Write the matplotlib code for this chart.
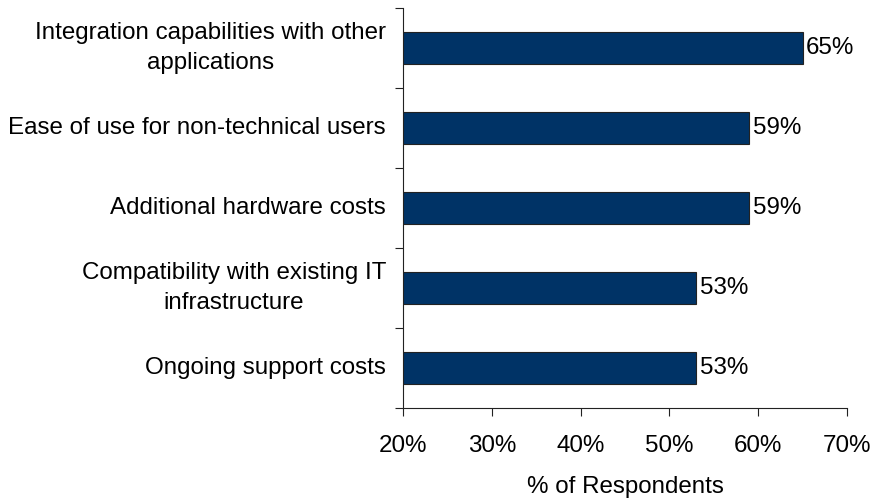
import matplotlib.pyplot as plt

plt.rcParams["font.family"] = ["Liberation Sans", "DejaVu Sans"]

factors = [
    "Integration capabilities with other\napplications",
    "Ease of use for non-technical users",
    "Additional hardware costs",
    "Compatibility with existing IT\ninfrastructure",
    "Ongoing support costs",
]
respondents = [65, 59, 59, 53, 53]
xticks = [20, 30, 40, 50, 60, 70]

FS = 17.4

fig = plt.figure(figsize=(8.73, 4.99), dpi=100)
ax = fig.add_axes([0.4616, 0.1824, 0.5086, 0.8016])

pos = list(range(len(factors)))
ax.barh(pos, respondents, height=0.41, left=0, color="#003366",
        edgecolor="#222222", linewidth=0.8)
ax.set_ylim(len(factors) - 0.5, -0.5)
ax.set_xlim(20, 70)

for p, v in zip(pos, respondents):
    ax.text(v + 0.4, p, f"{v}%", va="center", ha="left", fontsize=FS)

ax.set_xticks(xticks)
ax.set_xticklabels([f"{t}%" for t in xticks], fontsize=FS)
ax.set_yticks([p - 0.5 for p in pos] + [len(factors) - 0.5])
ax.set_yticklabels([])
ax.tick_params(axis="both", direction="out", length=5.8, width=0.8, color="#222222")
ax.tick_params(axis="x", pad=14)

# category labels sit between the ticks
for p, name in zip(pos, factors):
    ax.text(-0.038, p, name, transform=ax.get_yaxis_transform(), ha="right",
            va="center", multialignment="center", fontsize=FS, linespacing=1.45)

ax.set_xlabel("% of Respondents", fontsize=FS, labelpad=13)
for side in ["top", "right"]:
    ax.spines[side].set_visible(False)
for side in ["left", "bottom"]:
    ax.spines[side].set_color("#222222")
    ax.spines[side].set_linewidth(0.8)

fig.savefig("out.png", dpi=100)
